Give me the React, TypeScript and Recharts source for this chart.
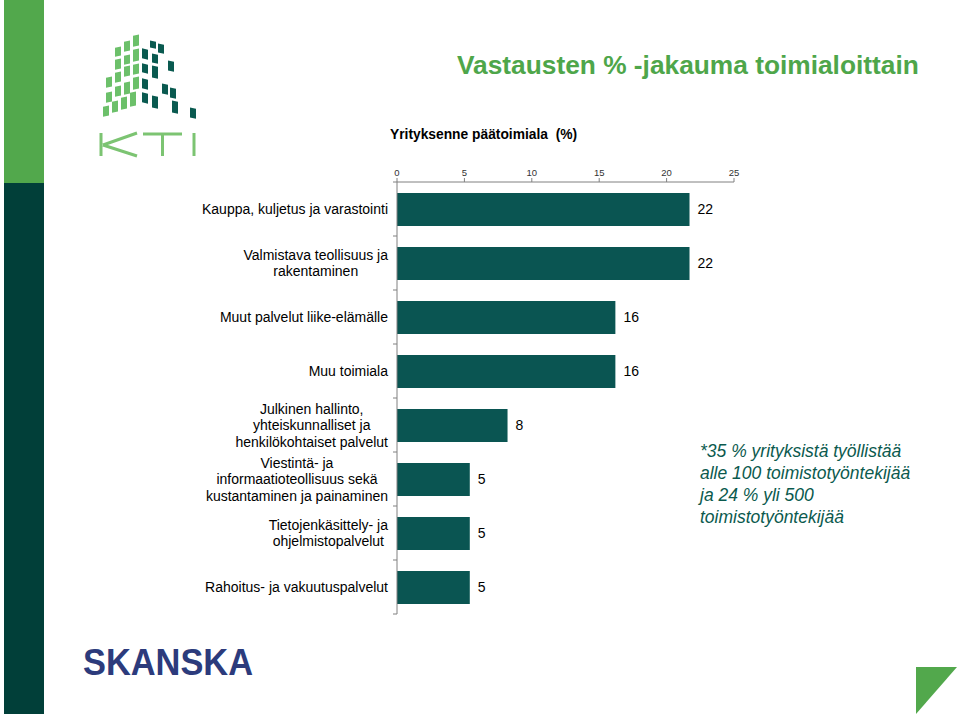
import React from 'react';
import { BarChart, Bar, XAxis, YAxis, LabelList } from 'recharts';

// Yrityksenne päätoimiala (%)
const categories = [
  'Kauppa, kuljetus ja varastointi',
  'Valmistava teollisuus ja\nrakentaminen',
  'Muut palvelut liike-elämälle',
  'Muu toimiala',
  'Julkinen hallinto,\nyhteiskunnalliset ja\nhenkilökohtaiset palvelut',
  'Viestintä- ja\ninformaatioteollisuus sekä\nkustantaminen ja painaminen',
  'Tietojenkäsittely- ja\nohjelmistopalvelut',
  'Rahoitus- ja vakuutuspalvelut',
];
const shares = [21.7, 21.7, 16.2, 16.2, 8.2, 5.4, 5.4, 5.4];
const axisTicks = [0, 5, 10, 15, 20, 25];

const noteLines = [
  '*35 % yrityksistä työllistää',
  'alle 100 toimistotyöntekijää',
  'ja 24 % yli 500',
  'toimistotyöntekijää',
];

const data = categories.map((name, i) => ({ name, value: shares[i] }));

const FONT = "Arial, 'Liberation Sans', sans-serif";
const BAR = '#0a5552';
const DARK = '#013f39';
const GREEN = '#52a84c';

const W = 960;
const H = 716;
const PLOT_LEFT = 397;
const PLOT_RIGHT = 734;
const PLOT_TOP = 182;
const PLOT_BOTTOM = 614;
const X_AXIS_H = 30;
const BAND = (PLOT_BOTTOM - PLOT_TOP) / categories.length;
const CAT_FONT = 14;

let ctx: CanvasRenderingContext2D | null = null;
const textWidth = (s: string) => {
  if (!ctx) {
    ctx = document.createElement('canvas').getContext('2d');
    if (ctx) ctx.font = `${CAT_FONT}px ${FONT}`;
  }
  return ctx ? ctx.measureText(s).width : s.length * 7;
};

const CategoryTick = (props: any) => {
  const { y, payload, index } = props;
  const lines = String(payload.value).split('\n');
  const right = PLOT_LEFT - 9;
  const maxW = Math.max(...lines.map(textWidth));
  const cx = right - maxW / 2;
  const lh = 16.5;
  const startY = y - ((lines.length - 1) * lh) / 2;
  return (
    <g>
      <line x1={PLOT_LEFT - 4} x2={PLOT_LEFT} y1={y - BAND / 2} y2={y - BAND / 2} stroke="#808080" />
      {index === categories.length - 1 && (
        <line x1={PLOT_LEFT - 4} x2={PLOT_LEFT} y1={y + BAND / 2} y2={y + BAND / 2} stroke="#808080" />
      )}
      <text
        x={lines.length > 1 ? cx : right}
        y={startY}
        textAnchor={lines.length > 1 ? 'middle' : 'end'}
        fontFamily={FONT}
        fontSize={CAT_FONT}
        fill="#000"
      >
        {lines.map((l, i) => (
          <tspan key={i} x={lines.length > 1 ? cx : right} y={startY + i * lh} dy="0.36em">
            {l}
          </tspan>
        ))}
      </text>
    </g>
  );
};

const greenSquares = [
  [133, 36, 47], [124, 42, 52], [115, 48, 57], [133, 50, 62], [115, 60, 70],
  [124, 56, 65], [124, 67, 77], [133, 65, 75], [106, 78, 88], [115, 73, 83],
  [115, 87, 97], [124, 83, 95], [133, 78, 90], [103, 107, 117], [112, 102, 113],
  [121, 98, 110], [130, 93, 107], [106, 93, 103],
];
const darkSquares = [
  [142, 48, 58], [150, 40, 47], [158, 43, 52], [142, 63, 72], [152, 53, 62],
  [168, 60, 70], [142, 78, 88], [152, 65, 77], [162, 83, 93], [170, 87, 97],
  [142, 92, 102], [152, 95, 107], [172, 100, 112], [190, 107, 117],
];

const KtiLogo = () => (
  <svg width={220} height={180} style={{ position: 'absolute', left: 0, top: 0 }}>
    {greenSquares.map(([x, y1, y2], i) => (
      <rect key={'g' + i} x={x} y={y1} width={6} height={y2 - y1} fill="#6cc06a" transform={`skewY(-12) translate(0 ${x * 0.21})`} />
    ))}
    {darkSquares.map(([x, y1, y2], i) => (
      <rect key={'d' + i} x={x} y={y1} width={6} height={y2 - y1} fill="#0a5a50" transform={`skewY(12) translate(0 ${-x * 0.21})`} />
    ))}
    <g stroke="#7cc472" strokeWidth={3} fill="none">
      <path d="M101 133 V156 M103 145 L137 133 M103 145 L137 156" />
      <path d="M143 134 H182 M162.5 134 V156" />
      <path d="M194 133 V156" />
    </g>
  </svg>
);

export default function App() {
  return (
    <div style={{ position: 'absolute', left: 0, top: 0, width: W, height: H, overflow: 'hidden', background: '#fff' }}>
      {/* side stripe */}
      <div style={{ position: 'absolute', left: 4, top: 0, width: 40, height: 183, background: GREEN }} />
      <div style={{ position: 'absolute', left: 4, top: 183, width: 40, height: 531, background: DARK }} />
      <KtiLogo />

      <div style={{ position: 'absolute', left: 457, top: 50, fontFamily: FONT, fontWeight: 'bold', fontSize: 26.3, color: '#4ea64a', whiteSpace: 'nowrap' }}>
        Vastausten % -jakauma toimialoittain
      </div>
      <div style={{ position: 'absolute', left: 390, top: 127, fontFamily: FONT, fontWeight: 'bold', fontSize: 13.8, color: '#000', whiteSpace: 'nowrap' }}>
        Yrityksenne päätoimiala&nbsp;&nbsp;(%)
      </div>

      <div style={{ position: 'absolute', left: 0, top: 0 }}>
        <BarChart
          width={W}
          height={H}
          data={data}
          layout="vertical"
          barCategoryGap={0}
          margin={{ top: PLOT_TOP - X_AXIS_H, right: W - PLOT_RIGHT, bottom: H - PLOT_BOTTOM, left: 0 }}
        >
          <XAxis
            type="number"
            orientation="top"
            domain={[0, 25]}
            ticks={axisTicks}
            height={X_AXIS_H}
            tickSize={4}
            tickMargin={2}
            stroke="#808080"
            tick={{ fontSize: 9.5, fill: '#333', fontFamily: FONT }}
          />
          <YAxis
            type="category"
            dataKey="name"
            width={PLOT_LEFT}
            tickLine={false}
            stroke="#808080"
            interval={0}
            tick={<CategoryTick />}
          />
          <Bar dataKey="value" fill={BAR} barSize={33} isAnimationActive={false}>
            <LabelList
              dataKey="value"
              position="right"
              offset={8}
              formatter={(v: any) => Math.round(Number(v))}
              style={{ fontSize: 14, fill: '#000', fontFamily: FONT }}
            />
          </Bar>
        </BarChart>
      </div>

      <div style={{ position: 'absolute', left: 700, top: 440, fontFamily: FONT, fontStyle: 'italic', fontSize: 17.5, lineHeight: '22px', color: '#0b5a4e', whiteSpace: 'nowrap' }}>
        {noteLines.map((l, i) => (
          <div key={i}>{l}</div>
        ))}
      </div>

      <svg width={W} height={H} style={{ position: 'absolute', left: 0, top: 0, pointerEvents: 'none' }}>
        <text x={83} y={675} fontFamily={FONT} fontWeight={900} fontSize={36} fill="#2c3b7c" textLength={170} lengthAdjust="spacingAndGlyphs">
          SKANSKA
        </text>
        <polygon points="916,667 957,667 916,714" fill={GREEN} />
      </svg>
    </div>
  );
}
